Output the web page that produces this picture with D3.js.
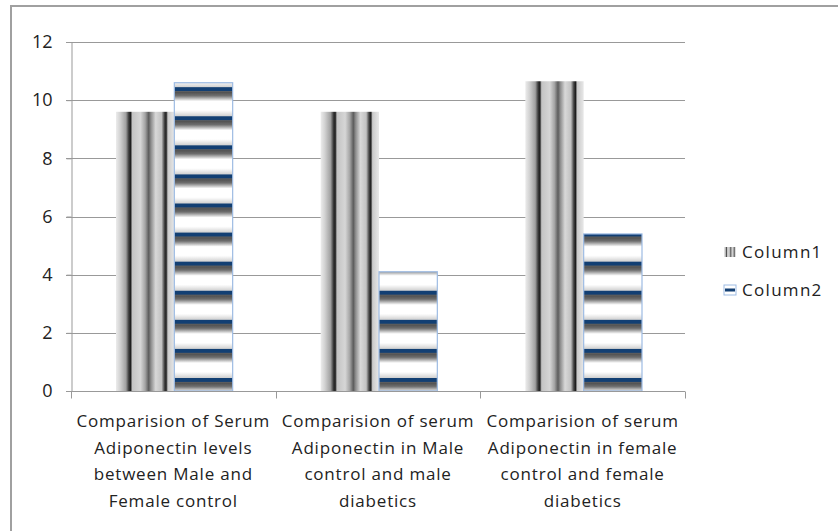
<!DOCTYPE html>
<html>
<head>
<meta charset="utf-8">
<script src="https://cdn.jsdelivr.net/npm/d3@7"></script>
<style>
  html, body { margin: 0; padding: 0; background: #fff; }
  svg { display: block; font-family: "Open Sans", Lato, sans-serif; }
</style>
</head>
<body>
<div id="chart"></div>
<script>
// chart data
const categoryLines = [
    ['Comparision of Serum', 'Adiponectin levels', 'between Male and', 'Female control'],
    ['Comparision of serum', 'Adiponectin in Male', 'control and male', 'diabetics'],
    ['Comparision of serum', 'Adiponectin in female', 'control and female', 'diabetics']
]
const seriesNames = ['Column1', 'Column2']
const column1 = [9.6, 9.6, 10.65]
const column2 = [10.6, 4.1, 5.4]
const yTicks = [0, 2, 4, 6, 8, 10, 12]

const width = 838
const height = 531
const plot = { left: 71, right: 685, top: 42, bottom: 391 }

const svg = d3.select('#chart')
    .append('svg')
    .attr('width', width)
    .attr('height', height)

const defs = svg.append('defs')

const y = d3.scaleLinear()
    .domain([0, 12])
    .range([plot.bottom, plot.top])

const x0 = d3.scaleBand()
    .domain(d3.range(categoryLines.length))
    .range([plot.left + 1, plot.right + 1])
    .paddingInner(0.43)
    .paddingOuter(0.215)

const x1 = d3.scaleBand()
    .domain(seriesNames)
    .range([0, x0.bandwidth()])

const catStep = (plot.right - plot.left) / categoryLines.length

// vertical stripes for Column1 (gradient across the bar)
const vStops = [
    [0, '#ececec'], [0.07, '#d2d2d2'], [0.17, '#a0a0a0'], [0.22, '#3a3a3a'], [0.25, '#1e1e1e'],
    [0.28, '#c4c4c4'], [0.42, '#d6d6d6'], [0.5, '#a4a4a4'], [0.56, '#5c5c5c'], [0.6, '#8e8e8e'],
    [0.68, '#d8d8d8'], [0.78, '#c2c2c2'], [0.83, '#444'], [0.86, '#1e1e1e'], [0.89, '#cacaca'],
    [1, '#e8e8e8']
]
const vGrad = defs.append('linearGradient')
    .attr('id', 'vstripes')
    .attr('x1', 0).attr('x2', 1).attr('y1', 0).attr('y2', 0)
vGrad.selectAll('stop').data(vStops).enter().append('stop')
    .attr('offset', d => d[0])
    .attr('stop-color', d => d[1])

// horizontal stripes for Column2, one period per y unit
const unit = y(0) - y(1)
const hPat = defs.append('pattern')
    .attr('id', 'hstripes')
    .attr('patternUnits', 'userSpaceOnUse')
    .attr('x', 0)
    .attr('y', y(0) - 13 - unit * 20)
    .attr('width', 10)
    .attr('height', unit)
const hGrad = defs.append('linearGradient')
    .attr('id', 'hgray')
    .attr('x1', 0).attr('x2', 0).attr('y1', 0).attr('y2', 1)
hGrad.append('stop').attr('offset', 0).attr('stop-color', '#484848')
hGrad.append('stop').attr('offset', 0.45).attr('stop-color', '#6e6e6e')
hGrad.append('stop').attr('offset', 1).attr('stop-color', '#ffffff')
const hTop = defs.append('linearGradient')
    .attr('id', 'hlight')
    .attr('x1', 0).attr('x2', 0).attr('y1', 0).attr('y2', 1)
hTop.append('stop').attr('offset', 0).attr('stop-color', '#ffffff')
hTop.append('stop').attr('offset', 1).attr('stop-color', '#cfcfcf')
hPat.append('rect').attr('width', 10).attr('height', unit).attr('fill', '#fff')
hPat.append('rect').attr('y', unit - 6).attr('width', 10).attr('height', 6).attr('fill', 'url(#hlight)')
hPat.append('rect').attr('y', 0).attr('width', 10).attr('height', 4).attr('fill', '#123f73')
hPat.append('rect').attr('y', 4).attr('width', 10).attr('height', 10).attr('fill', 'url(#hgray)')

// outer border
svg.append('rect')
    .attr('x', 11).attr('y', 6)
    .attr('width', width).attr('height', height)
    .attr('fill', 'none')
    .attr('stroke', '#a0a0a0')
    .attr('stroke-width', 2)

// gridlines
svg.append('g')
    .selectAll('line')
    .data(yTicks)
    .enter()
    .append('line')
    .attr('x1', plot.left - 5)
    .attr('x2', plot.right)
    .attr('y1', d => Math.round(y(d)) + 0.5)
    .attr('y2', d => Math.round(y(d)) + 0.5)
    .attr('stroke', '#999')
    .attr('stroke-width', 1)

// y axis
const yAxis = d3.axisLeft(y).tickValues(yTicks).tickSize(5).tickPadding(14)
const gy = svg.append('g')
    .attr('transform', `translate(${plot.left + 0.5},0)`)
    .call(yAxis)
gy.selectAll('line').attr('stroke', '#999')
gy.select('.domain').attr('stroke', '#999')
gy.selectAll('text')
    .attr('font-size', 18)
    .attr('fill', '#222')
    .style('font-family', '"Open Sans", Lato, sans-serif')

// bars
const seriesData = [column1, column2]
const groups = svg.append('g')
    .selectAll('g')
    .data(categoryLines.map((c, i) => i))
    .enter()
    .append('g')
    .attr('transform', i => `translate(${x0(i)},0)`)

groups.selectAll('rect')
    .data(i => seriesNames.map((s, k) => ({ series: s, value: seriesData[k][i] })))
    .enter()
    .append('rect')
    .attr('x', d => x1(d.series))
    .attr('y', d => y(d.value))
    .attr('width', x1.bandwidth())
    .attr('height', d => y(0) - y(d.value))
    .attr('fill', d => d.series === 'Column1' ? 'url(#vstripes)' : 'url(#hstripes)')
    .attr('stroke', d => d.series === 'Column1' ? 'none' : '#9dbbe3')
    .attr('stroke-width', 1.2)

// x axis
const gx = svg.append('g')
    .attr('transform', `translate(0,${Math.round(plot.bottom) + 0.5})`)
svg.append('line')
    .attr('x1', plot.left - 5).attr('x2', plot.right)
    .attr('y1', Math.round(plot.bottom) + 0.5).attr('y2', Math.round(plot.bottom) + 0.5)
    .attr('stroke', '#999')
const boundaries = d3.range(categoryLines.length + 1).map(i => plot.left + i * catStep)
gx.selectAll('line.tick')
    .data(boundaries)
    .enter()
    .append('line')
    .attr('x1', d => Math.round(d) + 0.5)
    .attr('x2', d => Math.round(d) + 0.5)
    .attr('y1', 0)
    .attr('y2', 7)
    .attr('stroke', '#999')

// category labels
const labels = svg.append('g')
    .selectAll('text')
    .data(categoryLines)
    .enter()
    .append('text')
    .attr('text-anchor', 'middle')
    .attr('font-size', 17)
    .attr('letter-spacing', 0.8)
    .attr('fill', '#222')
labels.selectAll('tspan')
    .data((lines, i) => lines.map(l => ({ text: l, i: i })))
    .enter()
    .append('tspan')
    .attr('x', d => plot.left + (d.i + 0.5) * catStep)
    .attr('y', (d, j) => 427 + j * 26.7)
    .text(d => d.text)

// legend
const legend = svg.append('g')
    .attr('transform', 'translate(724,0)')
const legendY = [252, 290]
legend.selectAll('rect')
    .data(seriesNames)
    .enter()
    .append('rect')
    .attr('x', 0)
    .attr('y', (d, i) => legendY[i] - 5)
    .attr('width', 12)
    .attr('height', 10)
    .attr('fill', d => d === 'Column1' ? 'url(#vstripes)' : '#fff')
    .attr('stroke', d => d === 'Column1' ? 'none' : '#9dbbe3')
legend.append('rect')
    .attr('x', 1).attr('y', legendY[1] - 1.5)
    .attr('width', 10).attr('height', 3)
    .attr('fill', '#123f73')
legend.selectAll('text')
    .data(seriesNames)
    .enter()
    .append('text')
    .attr('x', 18)
    .attr('y', (d, i) => legendY[i] + 6)
    .attr('font-size', 17)
    .attr('letter-spacing', 1.3)
    .attr('fill', '#222')
    .text(d => d)
</script>
</body>
</html>
